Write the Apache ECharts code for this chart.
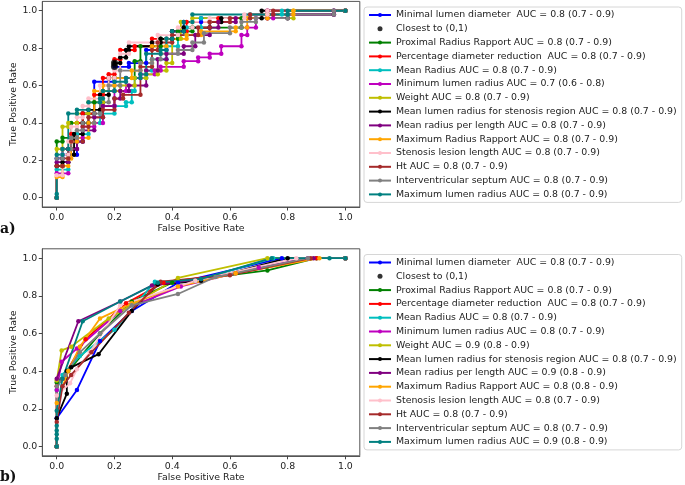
<!DOCTYPE html>
<html><head><meta charset="utf-8">
<script src="https://cdn.jsdelivr.net/npm/echarts@6/dist/echarts.min.js"></script>
<style>html,body{margin:0;padding:0;background:#fff}#c{width:685px;height:485px}</style>
</head><body><div id="c"></div>
<script>
// ---------- tick labels ----------
const tickValues = [0, 0.2, 0.4, 0.6, 0.8, 1.0];

// ---------- legend labels ----------
const labelsA = [
  'Minimal lumen diameter  AUC = 0.8 (0.7 - 0.9)',
  'Closest to (0,1)',
  'Proximal Radius Rapport AUC = 0.8 (0.7 - 0.9)',
  'Percentage diameter reduction  AUC = 0.8 (0.7 - 0.9)',
  'Mean Radius AUC = 0.8 (0.7 - 0.9)',
  'Minimum lumen radius AUC = 0.7 (0.6 - 0.8)',
  'Weight AUC = 0.8 (0.7 - 0.9)',
  'Mean lumen radius for stenosis region AUC = 0.8 (0.7 - 0.9)',
  'Mean radius per length AUC = 0.8 (0.7 - 0.9)',
  'Maximum Radius Rapport AUC = 0.8 (0.7 - 0.9)',
  'Stenosis lesion length AUC = 0.8 (0.7 - 0.9)',
  'Ht AUC = 0.8 (0.7 - 0.9)',
  'Interventricular septum AUC = 0.8 (0.7 - 0.9)',
  'Maximum lumen radius AUC = 0.8 (0.7 - 0.9)'
];
const labelsB = [
  'Minimal lumen diameter  AUC = 0.8 (0.7 - 0.9)',
  'Closest to (0,1)',
  'Proximal Radius Rapport AUC = 0.8 (0.7 - 0.9)',
  'Percentage diameter reduction  AUC = 0.8 (0.7 - 0.9)',
  'Mean Radius AUC = 0.8 (0.7 - 0.9)',
  'Minimum lumen radius AUC = 0.8 (0.7 - 0.9)',
  'Weight AUC = 0.9 (0.8 - 0.9)',
  'Mean lumen radius for stenosis region AUC = 0.8 (0.7 - 0.9)',
  'Mean radius per length AUC = 0.9 (0.8 - 0.9)',
  'Maximum Radius Rapport AUC = 0.8 (0.8 - 0.9)',
  'Stenosis lesion length AUC = 0.8 (0.7 - 0.9)',
  'Ht AUC = 0.8 (0.7 - 0.9)',
  'Interventricular septum AUC = 0.8 (0.7 - 0.9)',
  'Maximum lumen radius AUC = 0.9 (0.8 - 0.9)'
];
const lineColors = ['#0000ff','#000000','#008000','#ff0000','#00bfbf','#bf00bf','#bfbf00','#000000','#800080','#ffa500','#ffc0cb','#a52a2a','#808080','#008080'];

// ---------- panel a: [FPR, TPR] ----------
const aMinimalLumenDiameter = [[0,0],[0,0.21],[0.02,0.21],[0.02,0.23],[0.07,0.23],[0.07,0.30],[0.09,0.30],[0.09,0.45],[0.13,0.45],[0.13,0.62],[0.2,0.62],[0.2,0.70],[0.25,0.70],[0.25,0.72],[0.31,0.72],[0.31,0.79],[0.38,0.79],[0.38,0.85],[0.4,0.85],[0.4,0.89],[0.44,0.89],[0.44,0.94],[0.5,0.94],[0.5,0.96],[0.73,0.96],[0.73,1.0],[1,1]];
const aClosest = [[0.2,0.702],[0.2,0.72]];
const aProximalRadiusRapport = [[0,0],[0,0.30],[0.02,0.30],[0.02,0.32],[0.05,0.32],[0.05,0.40],[0.09,0.40],[0.09,0.45],[0.13,0.45],[0.13,0.51],[0.16,0.51],[0.16,0.57],[0.2,0.57],[0.2,0.64],[0.27,0.64],[0.27,0.73],[0.29,0.73],[0.29,0.81],[0.36,0.81],[0.36,0.85],[0.42,0.85],[0.42,0.89],[0.47,0.89],[0.47,0.91],[0.64,0.91],[0.64,0.96],[0.8,0.96],[0.8,0.98],[0.96,0.98],[0.96,1.0],[1,1]];
const aPercentageDiameterReduction = [[0,0],[0,0.17],[0.02,0.17],[0.02,0.26],[0.05,0.26],[0.05,0.34],[0.07,0.34],[0.07,0.40],[0.09,0.40],[0.09,0.45],[0.13,0.45],[0.13,0.55],[0.16,0.55],[0.16,0.64],[0.18,0.64],[0.18,0.66],[0.2,0.66],[0.2,0.74],[0.22,0.74],[0.22,0.79],[0.27,0.79],[0.27,0.81],[0.33,0.81],[0.33,0.85],[0.4,0.85],[0.4,0.89],[0.45,0.89],[0.45,0.94],[0.56,0.94],[0.56,0.96],[0.73,0.96],[0.73,1.0],[1,1]];
const aMeanRadius = [[0,0],[0,0.15],[0.04,0.15],[0.04,0.26],[0.07,0.26],[0.07,0.34],[0.11,0.34],[0.11,0.40],[0.15,0.40],[0.15,0.45],[0.2,0.45],[0.2,0.49],[0.24,0.49],[0.24,0.51],[0.26,0.51],[0.26,0.57],[0.27,0.57],[0.27,0.64],[0.31,0.64],[0.31,0.68],[0.33,0.68],[0.33,0.74],[0.38,0.74],[0.38,0.81],[0.42,0.81],[0.42,0.87],[0.45,0.87],[0.45,0.91],[0.5,0.91],[0.5,0.96],[0.67,0.96],[0.67,0.98],[0.78,0.98],[0.78,1.0],[1,1]];
const aMinimumLumenRadius = [[0,0],[0,0.13],[0.04,0.13],[0.04,0.26],[0.07,0.26],[0.07,0.32],[0.09,0.32],[0.09,0.38],[0.13,0.38],[0.13,0.40],[0.16,0.40],[0.16,0.49],[0.2,0.49],[0.2,0.57],[0.24,0.57],[0.24,0.64],[0.29,0.64],[0.29,0.66],[0.34,0.66],[0.34,0.68],[0.36,0.68],[0.36,0.70],[0.44,0.70],[0.44,0.73],[0.49,0.73],[0.49,0.75],[0.53,0.75],[0.53,0.77],[0.57,0.77],[0.57,0.81],[0.64,0.81],[0.64,0.87],[0.66,0.87],[0.66,0.91],[0.69,0.91],[0.69,0.96],[0.75,0.96],[0.75,0.98],[0.96,0.98],[0.96,1.0],[1,1]];
const aWeight = [[0,0],[0,0.26],[0.02,0.26],[0.02,0.38],[0.04,0.38],[0.04,0.40],[0.07,0.40],[0.07,0.45],[0.11,0.45],[0.11,0.51],[0.16,0.51],[0.16,0.57],[0.22,0.57],[0.22,0.60],[0.27,0.60],[0.27,0.64],[0.31,0.64],[0.31,0.66],[0.35,0.66],[0.35,0.68],[0.38,0.68],[0.38,0.72],[0.4,0.72],[0.4,0.85],[0.43,0.85],[0.43,0.94],[0.47,0.94],[0.47,0.96],[0.82,0.96],[0.82,1.0],[1,1]];
const aMeanLumenRadiusStenosis = [[0,0],[0,0.17],[0.02,0.17],[0.02,0.19],[0.04,0.19],[0.04,0.23],[0.06,0.23],[0.06,0.34],[0.09,0.34],[0.09,0.40],[0.11,0.40],[0.11,0.47],[0.15,0.47],[0.15,0.55],[0.18,0.55],[0.18,0.64],[0.2,0.64],[0.2,0.72],[0.22,0.72],[0.22,0.75],[0.24,0.75],[0.24,0.79],[0.25,0.79],[0.25,0.81],[0.33,0.81],[0.33,0.83],[0.36,0.83],[0.36,0.85],[0.4,0.85],[0.4,0.89],[0.44,0.89],[0.44,0.91],[0.53,0.91],[0.53,0.94],[0.57,0.94],[0.57,0.96],[0.71,0.96],[0.71,1.0],[1,1]];
const aMeanRadiusPerLength = [[0,0],[0,0.19],[0.04,0.19],[0.04,0.26],[0.07,0.26],[0.07,0.30],[0.09,0.30],[0.09,0.36],[0.13,0.36],[0.13,0.43],[0.16,0.43],[0.16,0.49],[0.2,0.49],[0.2,0.53],[0.22,0.53],[0.22,0.57],[0.25,0.57],[0.25,0.60],[0.31,0.60],[0.31,0.68],[0.35,0.68],[0.35,0.74],[0.38,0.74],[0.38,0.77],[0.44,0.77],[0.44,0.81],[0.48,0.81],[0.48,0.87],[0.53,0.87],[0.53,0.91],[0.56,0.91],[0.56,0.94],[0.62,0.94],[0.62,0.96],[0.8,0.96],[0.8,0.98],[0.96,0.98],[0.96,1.0],[1,1]];
const aMaximumRadiusRapport = [[0,0],[0,0.11],[0.02,0.11],[0.02,0.17],[0.04,0.17],[0.04,0.21],[0.05,0.21],[0.05,0.30],[0.07,0.30],[0.07,0.32],[0.11,0.32],[0.11,0.40],[0.13,0.40],[0.13,0.57],[0.16,0.57],[0.16,0.60],[0.2,0.60],[0.2,0.64],[0.26,0.64],[0.26,0.68],[0.29,0.68],[0.29,0.72],[0.33,0.72],[0.33,0.81],[0.38,0.81],[0.38,0.85],[0.45,0.85],[0.45,0.87],[0.5,0.87],[0.5,0.89],[0.62,0.89],[0.62,0.91],[0.66,0.91],[0.66,0.96],[0.73,0.96],[0.73,0.98],[0.82,0.98],[0.82,1.0],[1,1]];
const aStenosisLesionLength = [[0,0],[0,0.12],[0.02,0.12],[0.02,0.23],[0.04,0.23],[0.04,0.30],[0.05,0.30],[0.05,0.38],[0.07,0.38],[0.07,0.43],[0.09,0.43],[0.09,0.49],[0.11,0.49],[0.11,0.53],[0.15,0.53],[0.15,0.60],[0.18,0.60],[0.18,0.64],[0.2,0.64],[0.2,0.68],[0.22,0.68],[0.22,0.77],[0.25,0.77],[0.25,0.83],[0.35,0.83],[0.35,0.87],[0.42,0.87],[0.42,0.91],[0.47,0.91],[0.47,0.94],[0.53,0.94],[0.53,0.96],[0.65,0.96],[0.65,0.98],[0.73,0.98],[0.73,1.0],[1,1]];
const aHt = [[0,0],[0,0.17],[0.02,0.17],[0.02,0.21],[0.04,0.21],[0.04,0.26],[0.05,0.26],[0.05,0.30],[0.09,0.30],[0.09,0.38],[0.11,0.38],[0.11,0.43],[0.16,0.43],[0.16,0.47],[0.2,0.47],[0.2,0.53],[0.23,0.53],[0.23,0.55],[0.29,0.55],[0.29,0.70],[0.33,0.70],[0.33,0.79],[0.35,0.79],[0.35,0.83],[0.4,0.83],[0.4,0.87],[0.49,0.87],[0.49,0.91],[0.53,0.91],[0.53,0.94],[0.6,0.94],[0.6,0.96],[0.67,0.96],[0.67,0.98],[0.75,0.98],[0.75,1.0],[1,1]];
const aInterventricularSeptum = [[0,0],[0,0.21],[0.02,0.21],[0.02,0.26],[0.05,0.26],[0.05,0.32],[0.07,0.32],[0.07,0.36],[0.09,0.36],[0.09,0.40],[0.13,0.40],[0.13,0.45],[0.15,0.45],[0.15,0.51],[0.18,0.51],[0.18,0.60],[0.22,0.60],[0.22,0.68],[0.29,0.68],[0.29,0.72],[0.33,0.72],[0.33,0.74],[0.36,0.74],[0.36,0.77],[0.42,0.77],[0.42,0.79],[0.47,0.79],[0.47,0.83],[0.51,0.83],[0.51,0.88],[0.6,0.88],[0.6,0.91],[0.64,0.91],[0.64,0.94],[0.69,0.94],[0.69,0.96],[0.8,0.96],[0.8,0.98],[0.96,0.98],[0.96,1.0],[1,1]];
const aMaximumLumenRadius = [[0,0],[0,0.02],[0,0.23],[0.02,0.23],[0.02,0.26],[0.04,0.26],[0.04,0.45],[0.07,0.45],[0.07,0.47],[0.11,0.47],[0.11,0.51],[0.15,0.51],[0.15,0.53],[0.16,0.53],[0.16,0.57],[0.2,0.57],[0.2,0.62],[0.24,0.62],[0.24,0.64],[0.29,0.64],[0.29,0.66],[0.31,0.66],[0.31,0.77],[0.36,0.77],[0.36,0.79],[0.38,0.79],[0.38,0.85],[0.4,0.85],[0.4,0.89],[0.44,0.89],[0.44,0.94],[0.47,0.94],[0.47,0.98],[0.8,0.98],[0.8,1.0],[1,1]];

// ---------- panel b: [FPR, TPR] ----------
const bMinimalLumenDiameter = [[0,0],[0,0.15],[0.07,0.30],[0.15,0.56],[0.26,0.72],[0.42,0.87],[0.78,1.0],[1,1]];
const bClosest = [];
const bProximalRadiusRapport = [[0,0],[0,0.34],[0.04,0.40],[0.15,0.60],[0.26,0.77],[0.4,0.87],[0.73,0.935],[0.9,1.0],[1,1]];
const bPercentageDiameterReduction = [[0,0],[0,0.32],[0.02,0.36],[0.1,0.57],[0.24,0.76],[0.37,0.87],[0.62,0.92],[0.9,1.0],[1,1]];
const bMeanRadius = [[0,0],[0,0.30],[0.02,0.38],[0.08,0.48],[0.2,0.62],[0.34,0.875],[0.48,0.88],[0.75,1.0],[1,1]];
const bMinimumLumenRadius = [[0,0],[0,0.30],[0.017,0.45],[0.07,0.52],[0.22,0.72],[0.43,0.85],[0.7,0.95],[0.87,1.0],[1,1]];
const bWeight = [[0,0],[0,0.35],[0.017,0.51],[0.05,0.53],[0.18,0.68],[0.42,0.895],[0.73,1.0],[1,1]];
const bMeanLumenRadiusStenosis = [[0,0],[0,0.15],[0.035,0.28],[0.035,0.40],[0.05,0.42],[0.145,0.49],[0.26,0.72],[0.35,0.86],[0.5,0.88],[0.8,1.0],[1,1]];
const bMeanRadiusPerLength = [[0,0],[0,0.36],[0.075,0.665],[0.22,0.77],[0.33,0.855],[0.5,0.89],[0.89,1.0],[1,1]];
const bMaximumRadiusRapport = [[0,0],[0,0.23],[0.04,0.40],[0.08,0.53],[0.15,0.68],[0.26,0.76],[0.42,0.85],[0.62,0.92],[0.91,1.0],[1,1]];
const bStenosisLesionLength = [[0,0],[0,0.27],[0.046,0.335],[0.07,0.41],[0.115,0.50],[0.22,0.75],[0.48,0.88],[0.83,1.0],[1,1]];
const bHt = [[0,0],[0,0.13],[0.02,0.32],[0.05,0.38],[0.12,0.50],[0.25,0.71],[0.36,0.875],[0.6,0.91],[0.88,1.0],[1,1]];
const bInterventricularSeptum = [[0,0],[0,0.32],[0.03,0.38],[0.08,0.50],[0.15,0.60],[0.26,0.75],[0.42,0.81],[0.55,0.90],[0.87,1.0],[1,1]];
const bMaximumLumenRadius = [[0,0],[0,0.04],[0,0.065],[0,0.085],[0,0.11],[0,0.19],[0.02,0.36],[0.09,0.665],[0.22,0.77],[0.35,0.87],[0.5,0.89],[0.745,1.0],[0.945,1.0],[1,1]];

const curvesA = [aMinimalLumenDiameter,aClosest,aProximalRadiusRapport,aPercentageDiameterReduction,aMeanRadius,aMinimumLumenRadius,aWeight,aMeanLumenRadiusStenosis,aMeanRadiusPerLength,aMaximumRadiusRapport,aStenosisLesionLength,aHt,aInterventricularSeptum,aMaximumLumenRadius];
const curvesB = [bMinimalLumenDiameter,bClosest,bProximalRadiusRapport,bPercentageDiameterReduction,bMeanRadius,bMinimumLumenRadius,bWeight,bMeanLumenRadiusStenosis,bMeanRadiusPerLength,bMaximumRadiusRapport,bStenosisLesionLength,bHt,bInterventricularSeptum,bMaximumLumenRadius];

// ---------- build ----------
const FONT = 'DejaVu Sans';
const TXT = '#222';
function makeAxis(kind, idx, name, gap) {
  return {
    type: 'value', gridIndex: idx, min: -0.05, max: 1.05,
    name: name, nameLocation: 'middle', nameGap: gap,
    nameTextStyle: {fontFamily: FONT, fontSize: 9.4, color: TXT},
    splitLine: {show: false},
    axisLine: {show: true, onZero: false, lineStyle: {color: '#555', width: 1}},
    axisTick: {show: true, length: 3.5, lineStyle: {color: '#444'}, customValues: tickValues},
    axisLabel: {fontFamily: FONT, fontSize: 9.4, color: TXT, margin: kind === 'x' ? 6 : 5,
      customValues: tickValues, formatter: v => v.toFixed(1)}
  };
}
const series = [];
function addPanel(curves, labels, k) {
  curves.forEach((d, i) => {
    if (i === 1) {
      series.push({type: 'scatter', name: labels[i], xAxisIndex: k, yAxisIndex: k, data: d,
        symbol: 'circle', symbolSize: 7, itemStyle: {color: '#000'}, z: 5, silent: true});
    } else {
      series.push({type: 'line', name: labels[i], xAxisIndex: k, yAxisIndex: k, data: d,
        symbol: 'circle', symbolSize: 4.5, showSymbol: true, showAllSymbol: true,
        lineStyle: {width: 1.8, color: lineColors[i]}, itemStyle: {color: lineColors[i]},
        emphasis: {disabled: true}, silent: true, clip: false, z: 2});
    }
  });
}
addPanel(curvesA, labelsA, 0);
addPanel(curvesB, labelsB, 1);

function makeLegend(labels, top) {
  return {
    orient: 'vertical', left: 364, top: top,
    data: labels.map((n, i) => i === 1 ? {name: n, icon: 'circle'} : {name: n}),
    itemWidth: 22, itemHeight: 5, itemGap: 1.8,
    padding: [2, 5, 2, 4],
    borderColor: '#d6d6d6', borderWidth: 1, borderRadius: 3,
    selectedMode: false,
    textStyle: {fontFamily: FONT, fontSize: 9.4, color: TXT, lineHeight: 12}
  };
}

const chart = echarts.init(document.getElementById('c'), null, {renderer: 'canvas'});
chart.setOption({
  animation: false,
  backgroundColor: '#fff',
  title: [
    {text: 'a)', left: 0, top: 222, padding: 0, textStyle: {fontFamily: 'DejaVu Serif', fontWeight: 'bold', fontSize: 14, color: '#111'}},
    {text: 'b)', left: 0, top: 470, padding: 0, textStyle: {fontFamily: 'DejaVu Serif', fontWeight: 'bold', fontSize: 14, color: '#111'}}
  ],
  grid: [
    {left: 42.3, top: 1.4, width: 317.5, height: 205.6, show: true, borderColor: '#555', borderWidth: 1, backgroundColor: 'transparent'},
    {left: 42.3, top: 248.8, width: 317.5, height: 207, show: true, borderColor: '#555', borderWidth: 1, backgroundColor: 'transparent'}
  ],
  xAxis: [makeAxis('x', 0, 'False Positive Rate', 17.5), makeAxis('x', 1, 'False Positive Rate', 17.5)],
  yAxis: [makeAxis('y', 0, 'True Positive Rate', 24), makeAxis('y', 1, 'True Positive Rate', 24)],
  legend: [makeLegend(labelsA, 7), makeLegend(labelsB, 254.5)],
  series: series
});
</script></body></html>
